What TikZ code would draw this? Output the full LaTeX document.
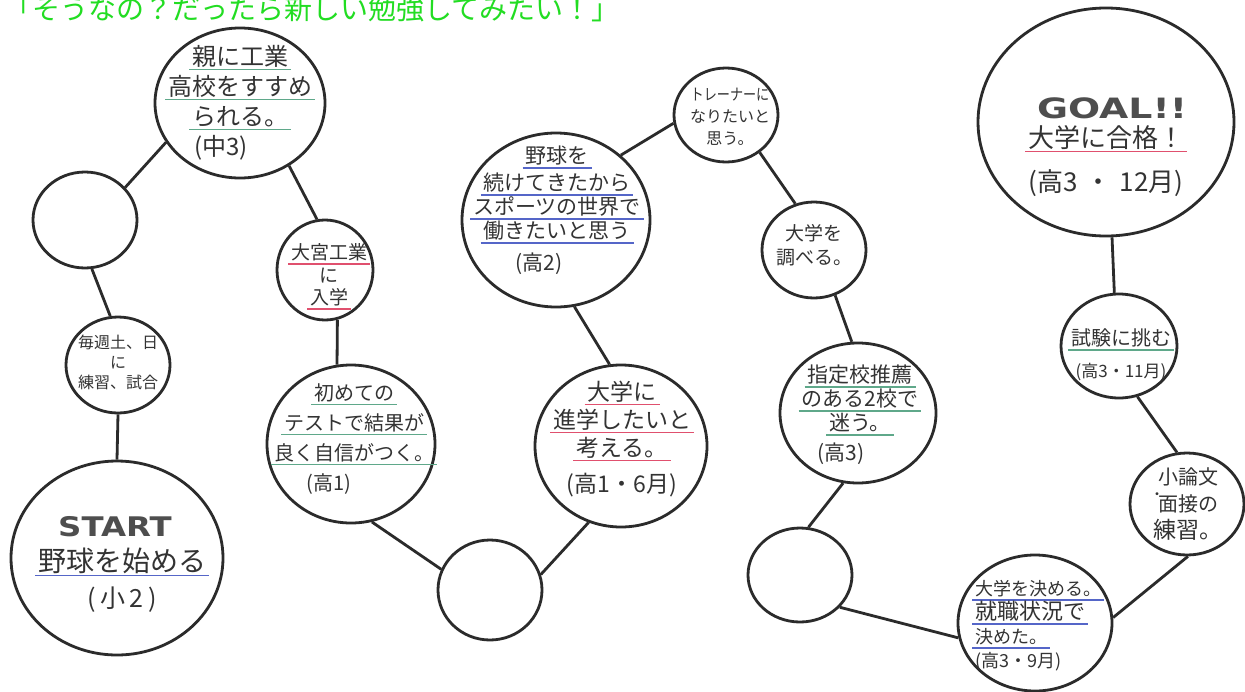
\documentclass[tikz,border=0pt]{standalone}
\usepackage{fontspec}
\usepackage{graphicx}
\usetikzlibrary{shapes.geometric}
\newfontfamily\jp{Noto Sans CJK JP}
\newfontfamily\heavy{DejaVu Sans}
\definecolor{ink}{HTML}{2B2B2B}
\definecolor{txt}{HTML}{333333}
\definecolor{ulgreen}{HTML}{5FA88A}
\definecolor{ulblue}{HTML}{5566C8}
\definecolor{ulred}{HTML}{E0506E}
\definecolor{titlegreen}{HTML}{22DD22}
\definecolor{logo}{HTML}{4E4E4E}
\newsavebox\ulbox
\newcommand\ulc[2]{\sbox\ulbox{#2}\leavevmode\rlap{\smash{\hspace*{-3pt}\textcolor{#1}{\rule[-5pt]{\dimexpr\wd\ulbox+6pt\relax}{1.4pt}}}}\usebox\ulbox}
\newcommand\fs[2]{\fontsize{#1}{#2}\selectfont}
\begin{document}
\begin{tikzpicture}[x=1pt,y=-1pt,
  circ/.style={ellipse,draw=ink,line width=2.8pt,inner sep=0pt,fill=white},
  conn/.style={draw=ink,line width=2.8pt},
  lbl/.style={text=txt,inner sep=0pt,align=center},
  logotext/.style={text=logo,inner sep=0pt}]
\fill[white] (0,0) rectangle (1245,691);
\useasboundingbox (0,0) rectangle (1245,691);

\node[anchor=base west,inner sep=0pt,text=titlegreen,font=\jp\fs{28}{28}] (title) at (4,19) {「そうなの？だったら新しい勉強してみたい！」};

% circles
\node[circ,minimum width=212pt,minimum height=194pt] (c1) at (117,558) {};
\node[circ,minimum width=104pt,minimum height=96pt] (c2) at (118,365) {};
\node[circ,minimum width=104pt,minimum height=96pt] (c3) at (85,220) {};
\node[circ,minimum width=170pt,minimum height=150pt] (c4) at (240,103) {};
\node[circ,minimum width=96pt,minimum height=100pt] (c5) at (325,270) {};
\node[circ,minimum width=168pt,minimum height=158pt] (c6) at (351,444) {};
\node[circ,minimum width=104pt,minimum height=100pt] (c7) at (490,590) {};
\node[circ,minimum width=172pt,minimum height=162pt] (c8) at (621,446) {};
\node[circ,minimum width=188pt,minimum height=174pt] (c9) at (556,220) {};
\node[circ,minimum width=104pt,minimum height=94pt] (c10) at (726,115) {};
\node[circ,minimum width=104pt,minimum height=96pt] (c11) at (814,250) {};
\node[circ,minimum width=156pt,minimum height=140pt] (c12) at (858,413) {};
\node[circ,minimum width=104pt,minimum height=94pt] (c13) at (800,575) {};
\node[circ,minimum width=154pt,minimum height=136pt] (c14) at (1035,623) {};
\node[circ,minimum width=114pt,minimum height=102pt] (c15) at (1187,504) {};
\node[circ,minimum width=116pt,minimum height=104pt] (c16) at (1119,346) {};
\node[circ,minimum width=256pt,minimum height=228pt] (c17) at (1106,122) {};

% connectors
\draw[conn] (c1.90) -- (c2.-90);
\draw[conn] (c2.99) -- (c3.-82);
\draw[conn] (c3.39) -- (c4.-152);
\draw[conn] (c4.-52) -- (c5.99);
\draw[conn] (c5.-76) -- (c6.100);
\draw[conn] (c6.-75) -- (c7.157);
\draw[conn] (c7.17) -- (c8.-113);
\draw[conn] (c8.98) -- (c9.-78);
\draw[conn] (c9.45) -- (c10.-171);
\draw[conn] (c10.-48) -- (c11.112);
\draw[conn] (c11.-65) -- (c12.95);
\draw[conn] (c12.-102) -- (c13.80);
\draw[conn] (c13.-39) -- (c14.-169);
\draw[conn] (c14.4) -- (c15.-89);
\draw[conn] (c15.101) -- (c16.-70);
\draw[conn] (c16.95) -- (c17.-87);

% texts
\node[logotext,font=\heavy\bfseries\fs{27}{27}] (s1) at (115,527) {\scalebox{1.2}[1]{START}};
\node[lbl,font=\jp\fs{28}{36}] (t1) at (122,580) {\ulc{ulblue}{野球を始める}\\{\fs{25}{36}(\hspace{.2em}小\hspace{.15em}2\hspace{.2em})}};
\node[lbl,font=\jp\fs{16}{20}] (t2) at (118,362) {毎週土、日\\に\\練習、試合};
\node[lbl,font=\jp\fs{24}{30}] (t4) at (240,102.5) {\ulc{ulgreen}{親に工業}\\\ulc{ulgreen}{高校をすすめ}\\\ulc{ulgreen}{られる。}\hspace*{50pt}\\(中3)\hspace*{38pt}};
\node[lbl,font=\jp\fs{19}{22.5}] (t5) at (329,275) {\ulc{ulred}{大宮工業}\\に\\\ulc{ulred}{入学}};
\node[lbl,font=\jp\fs{20}{30}] (t6) at (354,439) {\ulc{ulgreen}{初めての}\\\ulc{ulgreen}{テストで結果が}\\\ulc{ulgreen}{良く自信がつく。}\\(高1)\hspace*{50pt}};
\node[lbl,font=\jp\fs{23}{28}] (t8) at (622,439) {\ulc{ulred}{大学に}\\\ulc{ulred}{進学したいと}\\\ulc{ulred}{考える。}\\[8pt](高1・6月)};
\node[lbl,font=\jp\fs{21}{24}] (t9) at (557,210.5) {\ulc{ulblue}{野球を}\\[3pt]\ulc{ulblue}{続けてきたから}\\\ulc{ulblue}{スポーツの世界で}\\\ulc{ulblue}{働きたいと思う}\\[8pt](高2)\hspace*{36pt}};
\node[lbl,font=\jp\fs{16}{22}] (t10) at (730,116.5) {\scalebox{0.82}[1]{トレーナーに}\\なりたいと\\思う。};
\node[lbl,font=\jp\fs{19}{24}] (t11) at (814,245) {大学を\\調べる。};
\node[lbl,font=\jp\fs{21}{24}] (t12) at (860,415) {\ulc{ulgreen}{指定校推薦}\\\ulc{ulgreen}{のある2校で}\\\ulc{ulgreen}{迷う。}\hspace*{50pt}\\[6pt](高3)\hspace*{38pt}};
\node[lbl,align=left,anchor=west,font=\jp\fs{18}{24}] (t14) at (975,626) {\ulc{ulblue}{大学を決める。}\\\ulc{ulblue}{\fs{22}{24}就職状況で}\\\ulc{ulblue}{決めた。}\\(高3・9月)};
\node[lbl,font=\jp\fs{20}{27}] (t15) at (1188,504) {小論文\\\rlap{\smash{\hspace*{-8pt}\raisebox{12pt}{\fs{14}{14}・}}}面接の\\{\fs{23}{27}練習。}};
\node[lbl,font=\jp\fs{20}{32}] (t16) at (1121,355) {\ulc{ulgreen}{試験に挑む}\\{\fs{17}{32}(高3・11月)}};
\node[logotext,font=\heavy\bfseries\fs{28}{28}] (g17) at (1112,108) {\scalebox{1.35}[1]{GOAL!!}};
\node[lbl,font=\jp\fs{26}{44}] (t17) at (1106,161) {\ulc{ulred}{大学に合格！}\\(高3\hspace{.3em}・\hspace{.3em}12月)};
\end{tikzpicture}
\end{document}
